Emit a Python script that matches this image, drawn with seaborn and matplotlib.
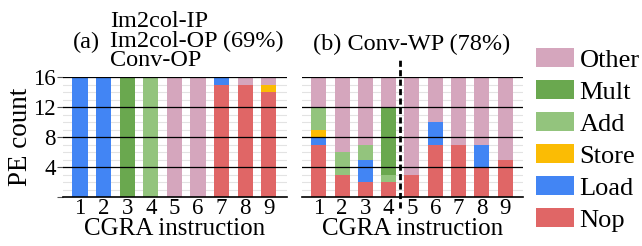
import matplotlib
matplotlib.use("Agg")
import matplotlib.pyplot as plt
import seaborn as sns
import numpy as np
from matplotlib.patches import Patch

plt.rcParams['font.family'] = ['Liberation Serif', 'DejaVu Serif']

instr = ['1', '2', '3', '4', '5', '6', '7', '8', '9']
categories = ['Nop', 'Load', 'Store', 'Add', 'Mult', 'Other']
colors = {'Nop': '#e06666', 'Load': '#4285f4', 'Store': '#fbbc04',
          'Add': '#93c47d', 'Mult': '#6aa84f', 'Other': '#d5a6bd'}

# Panel (a)
a_nop = [0, 0, 0, 0, 0, 0, 15, 15, 14]
a_load = [16, 16, 0, 0, 0, 0, 1, 0, 0]
a_store = [0, 0, 0, 0, 0, 0, 0, 0, 1]
a_add = [0, 0, 0, 16, 0, 0, 0, 0, 0]
a_mult = [0, 0, 16, 0, 0, 0, 0, 0, 0]
a_other = [0, 0, 0, 0, 16, 16, 0, 1, 1]

# Panel (b)
b_nop = [7, 3, 2, 2, 3, 7, 7, 4, 5]
b_load = [1, 0, 3, 0, 0, 3, 0, 3, 0]
b_store = [1, 0, 0, 0, 0, 0, 0, 0, 0]
b_add = [3, 3, 2, 1, 0, 0, 0, 0, 0]
b_mult = [0, 0, 0, 9, 0, 0, 0, 0, 0]
b_other = [4, 10, 9, 4, 13, 6, 9, 9, 11]

fig = plt.figure(figsize=(6.42, 2.46), dpi=100)
ax_a = fig.add_axes([63/642, 1-197/246, 224/642, 120/246])
ax_b = fig.add_axes([302/642, 1-197/246, 221/642, 120/246])

def draw(ax, series):
    cum = np.zeros(len(instr))
    cums = []
    for s in series:
        cum = cum + np.array(s, dtype=float)
        cums.append(cum.copy())
    for name, c in reversed(list(zip(categories, cums))):
        sns.barplot(x=instr, y=c, color=colors[name], saturation=1,
                    width=0.64, linewidth=0, ax=ax, zorder=2)
    ax.set_xlim(-0.72, 8.77)
    ax.set_ylim(0, 16)
    ax.set_yticks(range(0, 17), minor=True)
    ax.grid(which='minor', axis='y', color='#e3e3e3', lw=0.8, zorder=0)
    ax.grid(which='major', axis='x', visible=False)
    for yv in [4, 8, 12, 16]:
        ax.axhline(yv, color='black', lw=0.9, zorder=5)
    for sp in ['top', 'right', 'left']:
        ax.spines[sp].set_visible(False)
    ax.spines['bottom'].set_color('black')
    ax.spines['bottom'].set_linewidth(1.2)
    ax.spines['bottom'].set_zorder(6)
    ax.tick_params(axis='x', length=0, labelsize=16.5, pad=1)
    ax.tick_params(axis='y', which='minor', length=0)
    ax.set_xlabel('CGRA instruction', fontsize=18, labelpad=-1)
    ax.set_ylabel('')

draw(ax_a, [a_nop, a_load, a_store, a_add, a_mult, a_other])
draw(ax_b, [b_nop, b_load, b_store, b_add, b_mult, b_other])

ax_a.set_yticks([0, 4, 8, 12, 16])
ax_a.set_yticklabels(['', '4', '8', '12', '16'])
ax_a.tick_params(axis='y', which='major', length=4, width=0.8, labelsize=16.5, pad=1, color='#555555')
ax_a.set_ylabel('PE count', fontsize=19.5, labelpad=0.5)

ax_b.set_yticks([0, 4, 8, 12, 16])
ax_b.set_yticklabels([])
ax_b.tick_params(axis='y', which='major', length=0)

ax_b.plot([3.5, 3.5], [-1.5, 18.3], color='black', lw=2, linestyle=(0, (2.2, 1.2)),
          clip_on=False, zorder=7)

fig.text(73/642, 1-42/246, '(a)', fontsize=17.5, ha='left', va='center')
fig.text(110/642, 1-41/246, 'Im2col-IP\nIm2col-OP (69%)\nConv-OP', fontsize=17.5,
         ha='left', va='center', linespacing=0.88)
fig.text(313/642, 1-44/246, '(b) Conv-WP (78%)', fontsize=17.5, ha='left', va='center')

handles = [Patch(facecolor=colors[c], edgecolor='none', label=c) for c in reversed(categories)]
fig.legend(handles=handles, loc='center left', bbox_to_anchor=(536/642, 1-140/246),
           frameon=False, fontsize=19, handlelength=1.45, handleheight=0.7,
           handletextpad=0.2, labelspacing=0.32, borderaxespad=0, borderpad=0)

fig.savefig('out.png', dpi=100)
